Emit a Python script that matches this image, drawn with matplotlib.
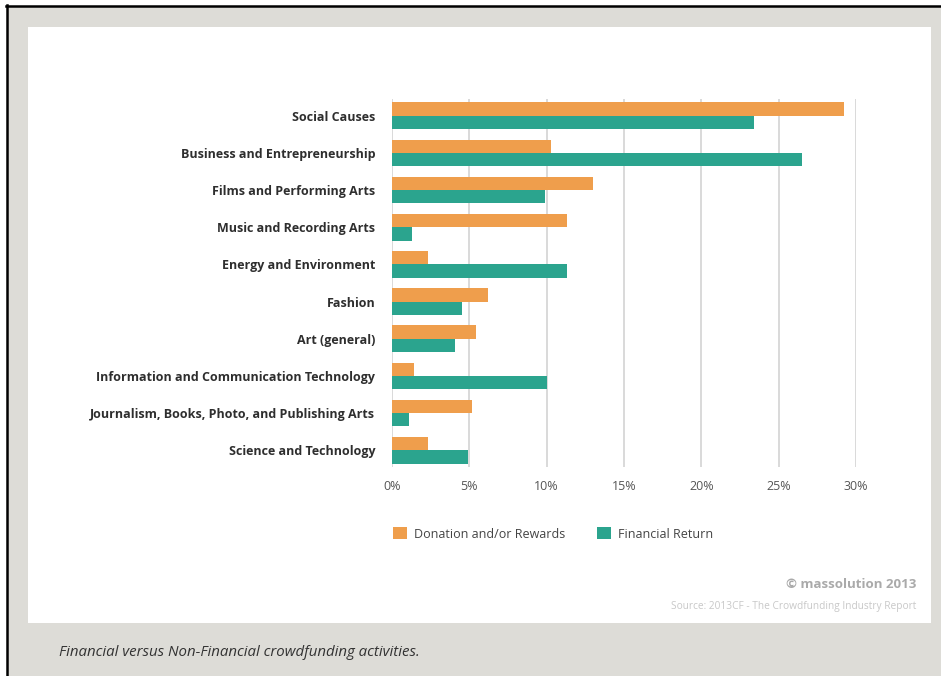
import matplotlib
matplotlib.use("Agg")
import matplotlib.pyplot as plt
from matplotlib.patches import Rectangle, Patch
from matplotlib.lines import Line2D
import numpy as np

# data (percent of platforms)
categories = ["Social Causes", "Business and Entrepreneurship", "Films and Performing Arts",
              "Music and Recording Arts", "Energy and Environment", "Fashion", "Art (general)",
              "Information and Communication Technology",
              "Journalism, Books, Photo, and Publishing Arts", "Science and Technology"]
donation = [29.2, 10.3, 13.0, 11.3, 2.3, 6.2, 5.4, 1.4, 5.2, 2.3]
financial = [23.4, 26.5, 9.9, 1.3, 11.3, 4.5, 4.1, 10.0, 1.1, 4.9]
xticks = [0, 5, 10, 15, 20, 25, 30]
series_names = ["Donation and/or Rewards", "Financial Return"]

ORANGE = "#ef9e4c"
TEAL = "#2ba48e"
GRAY_BG = "#dddcd7"
W, H = 941, 676


def fx(px):
    return px / W


def fy(py):
    return 1 - py / H


plt.rcParams['font.family'] = ['Open Sans', 'DejaVu Sans']

fig = plt.figure(figsize=(W / 100, H / 100), dpi=100, facecolor="white")

# gray frame, white card, black edge lines on top and left
fig.patches.append(Rectangle((fx(7), 0), 1 - fx(7), fy(6), transform=fig.transFigure,
                             facecolor=GRAY_BG, edgecolor="none", zorder=-6))
fig.patches.append(Rectangle((fx(28), fy(623)), fx(931 - 28), (623 - 27) / H,
                             transform=fig.transFigure, facecolor="white", edgecolor="none", zorder=-5))
fig.add_artist(Line2D([fx(6), 1], [fy(6), fy(6)], color="black", lw=1.8, transform=fig.transFigure))
fig.add_artist(Line2D([fx(7), fx(7)], [0, fy(5)], color="black", lw=1.8, transform=fig.transFigure))

# axes: 0% at x=392, 30% at x=856, top 99, bottom 467
ax = fig.add_axes([fx(392), fy(467), (856 - 392) / W, (467 - 99) / H])
ax.set_facecolor("none")
ax.set_zorder(2)

y = np.arange(len(categories))
h = 0.36
ax.barh(y - h / 2, donation, height=h, color=ORANGE, zorder=2)
ax.barh(y + h / 2, financial, height=h, color=TEAL, zorder=2)

ax.set_xlim(0, 30)
ax.set_ylim(len(categories) - 1 + 0.45, -0.45)
ax.set_xticks(xticks)
ax.set_xticklabels([f"{v}%" for v in xticks], fontsize=9, color="#555555")
ax.set_yticks(y)
ax.set_yticklabels(categories, fontsize=9, fontweight="bold", color="#2e2e2e")
ax.tick_params(axis="x", length=0, pad=9)
ax.tick_params(axis="y", length=0, pad=12)
for s in ax.spines.values():
    s.set_visible(False)
ax.set_axisbelow(True)
ax.grid(axis="x", color="#d9d9d9", lw=1.4, zorder=1)
ax.grid(axis="y", visible=False)

handles = [Patch(facecolor=ORANGE, edgecolor="none"), Patch(facecolor=TEAL, edgecolor="none")]
fig.legend(handles, series_names, loc="center left", bbox_to_anchor=(fx(382), fy(534)),
           ncol=2, frameon=False, fontsize=9, handlelength=1.1, handleheight=1.1,
           handletextpad=0.6, columnspacing=2.5, labelcolor="#444444")

fig.text(fx(916), fy(584), "© massolution 2013", ha="right", va="center",
         fontsize=9.5, fontweight="bold", color="#aaaaaa")
fig.text(fx(916), fy(607), "Source: 2013CF - The Crowdfunding Industry Report", ha="right",
         va="center", fontsize=7.3, color="#c8c8c8")
fig.text(fx(59), fy(653), "Financial versus Non-Financial crowdfunding activities.",
         ha="left", va="center", fontsize=10.8, style="italic", color="#333333")

fig.savefig("out.png", dpi=100, facecolor=fig.get_facecolor())
